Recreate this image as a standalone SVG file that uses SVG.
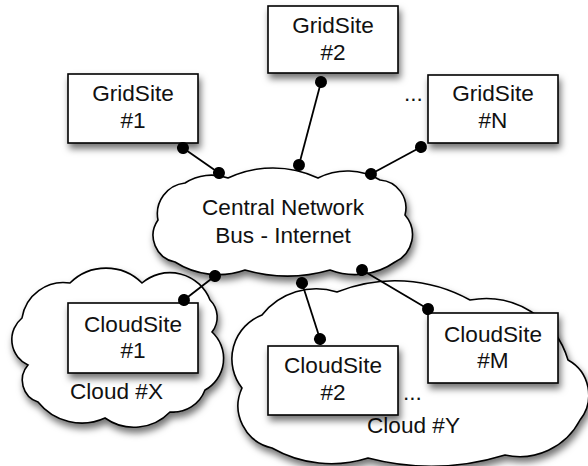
<svg xmlns="http://www.w3.org/2000/svg" width="588" height="466" viewBox="0 0 588 466">
<style>
.box{fill:#fff;stroke:#000;stroke-width:1.6;filter:url(#sh)}
.cloud{fill:#fff;stroke:#000;stroke-width:1.6;stroke-linejoin:miter;filter:url(#sh)}
.t{font-family:"Liberation Sans",Arial,sans-serif;font-size:22.6px;fill:#111;text-anchor:middle}
.tl{font-family:"Liberation Sans",Arial,sans-serif;font-size:22.6px;fill:#111}
.c{stroke:#000;stroke-width:1.8;fill:none;marker-start:url(#dot);marker-end:url(#dot)}
</style>
<defs>
<filter id="sh" x="-10%" y="-10%" width="130%" height="140%">
<feDropShadow dx="2" dy="5" stdDeviation="3.5" flood-color="#000" flood-opacity="0.55"/>
</filter>
<marker id="dot" markerUnits="userSpaceOnUse" markerWidth="14" markerHeight="14" refX="7" refY="7" orient="auto">
<circle cx="7" cy="7" r="6" fill="#000"/>
</marker>
</defs>

<g id="cloudX">
<path class="cloud" d="M22,318 A42,42 0 0 1 70,283 A51,51 0 0 1 142,283 A43,43 0 0 1 210,300 A24,24 0 0 1 212,332 A36,36 0 0 1 205,390 A34,34 0 0 1 170,412 A50,50 0 0 1 105,418 A56,56 0 0 1 38,402 A23,23 0 0 1 28,365 A28,28 0 0 1 22,318 Z"/>
<text class="tl" x="70" y="399">Cloud #X</text>
</g>

<g id="cloudY">
<path class="cloud" d="M242,388 A47,47 0 0 1 262,315 A69,69 0 0 1 337,292 A155,155 0 0 1 470,300 A86,86 0 0 1 568,360 A40,40 0 0 1 580,420 A68,68 0 0 1 505,455 A250,250 0 0 1 368,458 A120,120 0 0 1 272,448 A43,43 0 0 1 242,388 Z"/>
<text class="tl" x="367" y="433">Cloud #Y</text>
<text class="tl" x="403" y="400">...</text>
</g>

<g id="central">
<path class="cloud" d="M158,220 A31,31 0 0 1 185,183 A49,49 0 0 1 228,178 A106,106 0 0 1 318,178 A64,64 0 0 1 380,180 A28,28 0 0 1 405,215 A30,30 0 0 1 395,262 A70,70 0 0 1 330,270 A153,153 0 0 1 245,270 A80,80 0 0 1 175,262 A27,27 0 0 1 158,220 Z"/>
<text class="t" x="283" y="215">Central Network</text>
<text class="t" x="283" y="243">Bus - Internet</text>
</g>

<g id="grid1">
<rect class="box" x="68" y="74" width="130" height="69"/>
<text class="t" x="133" y="101">GridSite</text>
<text class="t" x="133" y="128">#1</text>
</g>

<g id="grid2">
<rect class="box" x="268" y="6" width="130" height="67"/>
<text class="t" x="333" y="33">GridSite</text>
<text class="t" x="333" y="60">#2</text>
</g>

<g id="gridN">
<rect class="box" x="428" y="75" width="130" height="68"/>
<text class="t" x="493" y="101">GridSite</text>
<text class="t" x="493" y="128">#N</text>
<text class="tl" x="404" y="101">...</text>
</g>

<g id="cloudsite1">
<rect class="box" x="68" y="303" width="130" height="70"/>
<text class="t" x="133" y="332">CloudSite</text>
<text class="t" x="133" y="358">#1</text>
</g>

<g id="cloudsite2">
<rect class="box" x="268" y="346" width="130" height="69"/>
<text class="t" x="333" y="373">CloudSite</text>
<text class="t" x="333" y="400">#2</text>
</g>

<g id="cloudsiteM">
<rect class="box" x="428" y="313" width="130" height="70"/>
<text class="t" x="493" y="342">CloudSite</text>
<text class="t" x="493" y="368">#M</text>
</g>

<g id="connectors">
<line class="c" x1="183" y1="148" x2="219" y2="173"/>
<line class="c" x1="321" y1="82" x2="299" y2="165"/>
<line class="c" x1="421" y1="147" x2="371" y2="174"/>
<line class="c" x1="215" y1="276" x2="184" y2="300"/>
<line class="c" x1="302" y1="283" x2="320" y2="339"/>
<line class="c" x1="362" y1="270" x2="428" y2="309"/>
</g>
</svg>
